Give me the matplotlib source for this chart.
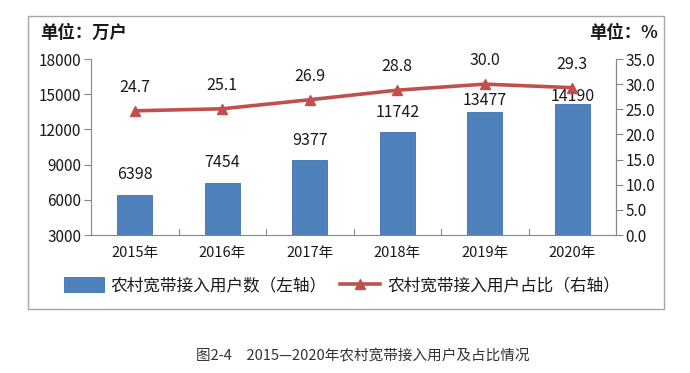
import numpy as np
import matplotlib
matplotlib.use("Agg")
import matplotlib.pyplot as plt
from matplotlib.patches import Rectangle

plt.rcParams['font.family'] = ['Noto Sans CJK SC', 'DejaVu Sans']

# data
years = ["2015年", "2016年", "2017年", "2018年", "2019年", "2020年"]
users = [6398, 7454, 9377, 11742, 13477, 14190]
share = [24.7, 25.1, 26.9, 28.8, 30.0, 29.3]
bar_label_offsets = [14.5, 14.5, 14, 14, 8, 5.5]

left_ticks = [3000, 6000, 9000, 12000, 15000, 18000]
right_ticks = [0, 5, 10, 15, 20, 25, 30, 35]

bar_color = "#4F81BD"
line_color = "#C0504D"
axis_gray = "#868686"
text_color = "#1a1a1a"

fig = plt.figure(figsize=(6.9, 3.73), dpi=100)

# outer frame of the chart
fig.patches.append(Rectangle((28 / 690, 1 - 309 / 373), (664 - 28) / 690, (309 - 16) / 373,
                             transform=fig.transFigure, fill=False,
                             edgecolor="#a6a6a6", linewidth=1.0))

ax = fig.add_axes([91 / 690, 1 - 235 / 373, (616 - 91) / 690, (235 - 59) / 373])
x = np.arange(len(years))

ax.bar(x, users, width=0.4, color=bar_color, edgecolor="#3f70ad",
       linewidth=0.6, label="农村宽带接入用户数（左轴）", zorder=2)
ax.set_ylim(3000, 18000)
ax.set_xlim(-0.5, len(years) - 0.5)
ax.set_yticks(left_ticks)
ax.set_yticklabels([str(v) for v in left_ticks])
ax.set_xticks(x)
ax.set_xticklabels(years)
ax.tick_params(axis='x', length=0, pad=8, labelsize=10.5, colors=text_color)
ax.tick_params(axis='y', length=5, direction='out', labelsize=11,
               colors=text_color, pad=2)
ax.tick_params(axis='y', color=axis_gray)
# category separators on the bottom axis
for b in np.arange(0.5, len(years) - 1, 1.0):
    ax.plot([b, b], [3000, 3000 + 15000 * 0.035], color=axis_gray, lw=0.8,
            clip_on=False, zorder=1)

ax.spines["top"].set_visible(False)
for sp in ["left", "bottom", "right"]:
    ax.spines[sp].set_color(axis_gray)
    ax.spines[sp].set_linewidth(0.8)

for xi, v, off in zip(x, users, bar_label_offsets):
    ax.annotate(str(v), (xi, v), xytext=(0, off), textcoords="offset points",
                ha="center", va="center", fontsize=11.5, color=text_color)

ax2 = ax.twinx()
ax2.plot(x, share, color=line_color, lw=2.6, marker="^", markersize=7,
         label="农村宽带接入用户占比（右轴）", zorder=3)
ax2.set_ylim(0, 35)
ax2.set_yticks(right_ticks)
ax2.set_yticklabels([f"{v:.1f}" for v in right_ticks])
ax2.tick_params(axis='y', length=5, direction='out', labelsize=11,
                colors=text_color, pad=2)
ax2.tick_params(axis='y', color=axis_gray)
for sp in ["top", "left", "bottom"]:
    ax2.spines[sp].set_visible(False)
ax2.spines["right"].set_color(axis_gray)
ax2.spines["right"].set_linewidth(0.8)

for xi, v in zip(x, share):
    ax2.annotate(f"{v:.1f}", (xi, v), xytext=(0, 17), textcoords="offset points",
                 ha="center", va="center", fontsize=11.5, color=text_color)

# units
fig.text(40 / 690, 1 - 33 / 373, "单位：万户", fontsize=12.5, fontweight="bold",
         ha="left", va="center", color=text_color)
fig.text(658 / 690, 1 - 33 / 373, "单位：%", fontsize=12.5, fontweight="bold",
         ha="right", va="center", color=text_color)

# legend
h1, l1 = ax.get_legend_handles_labels()
h2, l2 = ax2.get_legend_handles_labels()
fig.legend(h1 + h2, l1 + l2, loc="center", bbox_to_anchor=(342 / 690, 1 - 286 / 373),
           ncol=2, frameon=False, fontsize=12, handlelength=2.4, handleheight=1.0,
           columnspacing=0.8, handletextpad=0.4, labelcolor=text_color)

# caption
fig.text(363 / 690, 1 - 355 / 373, "图2-4　2015—2020年农村宽带接入用户及占比情况",
         fontsize=10.5, ha="center", va="center", color="#333333")

fig.savefig("out.png", dpi=100)
